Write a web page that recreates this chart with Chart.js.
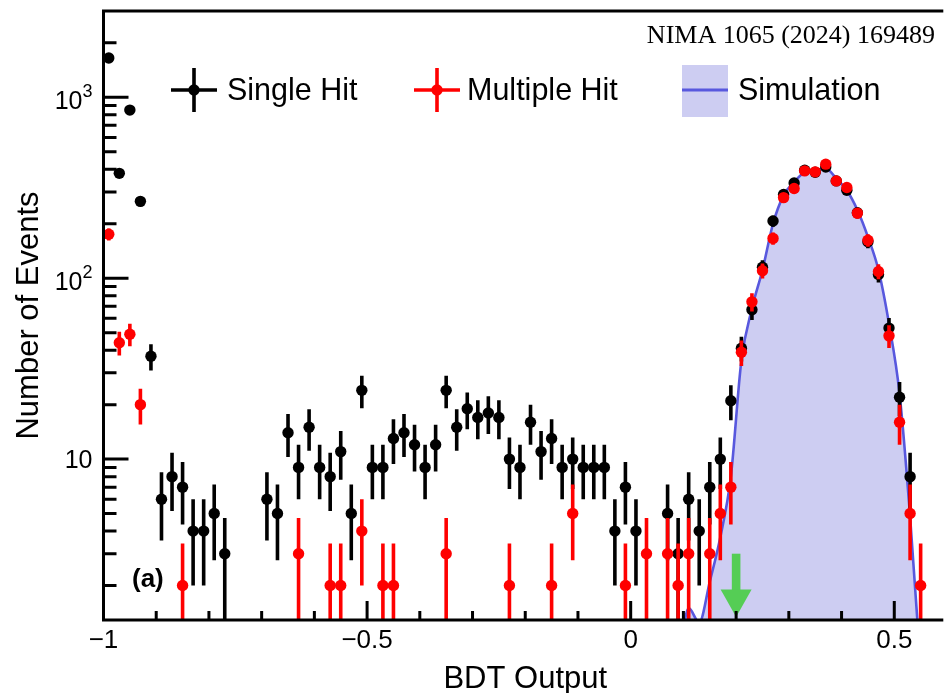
<!DOCTYPE html>
<html>
<head>
<meta charset="utf-8">
<title>BDT Output</title>
<script src="https://cdn.jsdelivr.net/npm/chart.js@4.4.1/dist/chart.umd.min.js"></script>
<style>
    html, body { margin: 0; padding: 0; background: #fff; overflow: hidden; }
    #wrap { width: 944px; height: 693px; }
</style>
</head>
<body>
<div id="wrap"><canvas id="bdtChart" width="944" height="693"></canvas></div>
<script>
// Histogram bin centres (bin width 0.02)
const binCenters = [
    -0.99, -0.97, -0.95, -0.93, -0.91, -0.89, -0.87, -0.85, -0.83, -0.81,
    -0.79, -0.77, -0.75, -0.73, -0.71, -0.69, -0.67, -0.65, -0.63, -0.61,
    -0.59, -0.57, -0.55, -0.53, -0.51, -0.49, -0.47, -0.45, -0.43, -0.41,
    -0.39, -0.37, -0.35, -0.33, -0.31, -0.29, -0.27, -0.25, -0.23, -0.21,
    -0.19, -0.17, -0.15, -0.13, -0.11, -0.09, -0.07, -0.05, -0.03, -0.01,
    0.01, 0.03, 0.05, 0.07, 0.09, 0.11, 0.13, 0.15, 0.17, 0.19,
    0.21, 0.23, 0.25, 0.27, 0.29, 0.31, 0.33, 0.35, 0.37, 0.39,
    0.41, 0.43, 0.45, 0.47, 0.49, 0.51, 0.53, 0.55
];

// Event counts per bin (0 = empty bin, not drawn)
const singleHit = [
    1650, 380, 850, 266, 37, 6, 8, 7, 4, 4,
    5, 3, 0, 0, 0, 6, 5, 14, 9, 15,
    9, 8, 11, 5, 24, 9, 9, 13, 14, 12,
    9, 12, 24, 15, 19, 17, 18, 17, 10, 9,
    16, 11, 13, 9, 10, 9, 9, 9, 4, 7,
    4, 0, 0, 5, 3, 6, 4, 7, 10, 21,
    41, 67, 115, 207, 290, 336, 395, 385, 412, 345,
    306, 230, 159, 105, 53, 22, 8, 0
];

const multipleHit = [
    175, 44, 49, 20, 0, 0, 0, 2, 0, 0,
    0, 0, 0, 0, 0, 0, 0, 0, 3, 0,
    0, 2, 2, 0, 4, 0, 2, 2, 0, 0,
    0, 0, 3, 0, 0, 0, 0, 0, 2, 0,
    0, 0, 2, 0, 5, 0, 0, 0, 0, 2,
    0, 3, 0, 3, 2, 3, 0, 3, 5, 7,
    39, 74, 110, 166, 279, 313, 392, 387, 427, 345,
    317, 229, 162, 109, 48, 16, 5, 2
];

// Simulated signal shape
const simCenters = [
    0.09, 0.11, 0.13, 0.15, 0.17, 0.19, 0.21, 0.23, 0.25, 0.27, 0.29, 0.31,
    0.33, 0.35, 0.37, 0.39, 0.41, 0.43, 0.45, 0.47, 0.49, 0.51, 0.53, 0.55
];
const simulation = [
    0.7, 1.5, 1.25, 2.1, 3.7, 8, 35, 68, 111, 200, 287, 340,
    386, 395, 404, 356, 306, 238, 169, 111, 56, 23, 4.8, 0.7
];

// Axis ticks
const xMajorTicks = [-1, -0.5, 0, 0.5];
const xTickLabels = ['\u22121', '\u22120.5', '0', '0.5'];
const xMinorTicks = [-0.9, -0.8, -0.7, -0.6, -0.4, -0.3, -0.2, -0.1, 0.1, 0.2, 0.3, 0.4];
const yMajorTicks = [10, 100, 1000];
const yTickExponents = ['', '2', '3'];
const yMinorTicks = [2, 3, 4, 5, 6, 7, 8, 9, 20, 30, 40, 50, 60, 70, 80, 90,
                     200, 300, 400, 500, 600, 700, 800, 900, 2000];

const bdtCut = 0.2;

const RED = '#ff0000';
const BLACK = '#000000';
const SIM_LINE = 'rgb(88, 88, 222)';
const SIM_FILL = 'rgb(205, 205, 242)';
const ARROW = 'rgb(85, 205, 85)';
const SANS = '"Liberation Sans", Arial, Helvetica, sans-serif';
const MARKER_R = 5.7;
const BAR_W = 3.6;

function toPoints(xs, ys) {
    return xs.map((x, i) => ({ x: x, y: ys[i] > 0 ? ys[i] : null }));
}

// Poisson error bars, drawn just before each marker set
const errorBars = {
    id: 'errorBars',
    beforeDatasetDraw(chart, args) {
        const ds = chart.data.datasets[args.index];
        if (!ds.errorBars) return;
        const { ctx, chartArea: a, scales: { x, y } } = chart;
        ctx.save();
        ctx.beginPath();
        ctx.rect(a.left, a.top, a.width, a.height);
        ctx.clip();
        ctx.strokeStyle = ds.pointBackgroundColor;
        ctx.lineWidth = BAR_W;
        ds.data.forEach(p => {
            if (p.y == null) return;
            const err = Math.sqrt(p.y);
            const px = x.getPixelForValue(p.x);
            const yTop = y.getPixelForValue(p.y + err);
            const yBot = p.y - err > 0 ? y.getPixelForValue(p.y - err) : a.bottom + 10;
            ctx.beginPath();
            ctx.moveTo(px, yTop);
            ctx.lineTo(px, yBot);
            ctx.stroke();
        });
        ctx.restore();
    }
};

// Cut arrow on top of the data
const cutArrow = {
    id: 'cutArrow',
    afterDatasetsDraw(chart) {
        const { ctx, chartArea: a, scales: { x, y } } = chart;
        const px = x.getPixelForValue(bdtCut);
        const yTop = y.getPixelForValue(3.0);
        const yHead = y.getPixelForValue(1.9);
        ctx.save();
        ctx.fillStyle = ARROW;
        ctx.fillRect(px - 4.3, yTop, 8.6, yHead - yTop + 1);
        ctx.beginPath();
        ctx.moveTo(px - 15.5, yHead);
        ctx.lineTo(px + 15.5, yHead);
        ctx.lineTo(px, a.bottom - 3);
        ctx.closePath();
        ctx.fill();
        ctx.restore();
    }
};

function drawCross(ctx, cx, cy, color) {
    ctx.strokeStyle = color;
    ctx.fillStyle = color;
    ctx.lineWidth = BAR_W;
    ctx.beginPath();
    ctx.moveTo(cx - 23, cy); ctx.lineTo(cx + 23, cy);
    ctx.moveTo(cx, cy - 22); ctx.lineTo(cx, cy + 22);
    ctx.stroke();
    ctx.beginPath();
    ctx.arc(cx, cy, MARKER_R, 0, Math.PI * 2);
    ctx.fill();
}

// Frame, inward ticks, labels and legend in ROOT style
const rootFrame = {
    id: 'rootFrame',
    afterDraw(chart) {
        const { ctx, chartArea: a, scales: { x, y } } = chart;
        ctx.save();
        ctx.strokeStyle = BLACK;
        ctx.lineWidth = 3;
        ctx.lineJoin = 'miter';
        ctx.beginPath();
        ctx.moveTo(a.right + 5, a.top);
        ctx.lineTo(a.left, a.top);
        ctx.lineTo(a.left, a.bottom);
        ctx.lineTo(a.right + 5, a.bottom);
        ctx.stroke();

        ctx.beginPath();
        xMajorTicks.forEach(v => {
            const px = x.getPixelForValue(v);
            ctx.moveTo(px, a.bottom); ctx.lineTo(px, a.bottom - 19);
        });
        xMinorTicks.forEach(v => {
            const px = x.getPixelForValue(v);
            ctx.moveTo(px, a.bottom); ctx.lineTo(px, a.bottom - 9);
        });
        yMajorTicks.forEach(v => {
            const py = y.getPixelForValue(v);
            ctx.moveTo(a.left, py); ctx.lineTo(a.left + 25, py);
        });
        yMinorTicks.forEach(v => {
            const py = y.getPixelForValue(v);
            ctx.moveTo(a.left, py); ctx.lineTo(a.left + 13, py);
        });
        ctx.stroke();

        // tick labels
        ctx.fillStyle = BLACK;
        ctx.font = '26px ' + SANS;
        ctx.textAlign = 'center';
        ctx.textBaseline = 'alphabetic';
        xMajorTicks.forEach((v, i) => {
            ctx.fillText(xTickLabels[i], x.getPixelForValue(v), 648);
        });
        yMajorTicks.forEach((v, i) => {
            const py = y.getPixelForValue(v);
            ctx.textAlign = 'right';
            if (yTickExponents[i]) {
                ctx.font = '18px ' + SANS;
                ctx.fillText(yTickExponents[i], a.left - 11, py);
                ctx.font = '25px ' + SANS;
                ctx.fillText('10', a.left - 21, py + 12);
            } else {
                ctx.font = '25px ' + SANS;
                ctx.fillText('10', a.left - 11, py + 9);
            }
        });

        // axis titles
        ctx.font = '31px ' + SANS;
        ctx.textAlign = 'center';
        ctx.fillText('BDT Output', x.getPixelForValue(-0.2), 688);
        ctx.save();
        ctx.translate(38, (a.top + a.bottom) / 2);
        ctx.rotate(-Math.PI / 2);
        ctx.fillText('Number of Events', 0, 0);
        ctx.restore();

        // panel tag and reference
        ctx.font = 'bold 26px ' + SANS;
        ctx.textAlign = 'left';
        ctx.fillText('(a)', 132, 587);
        ctx.font = '26px "Liberation Serif", "Times New Roman", serif';
        ctx.textAlign = 'right';
        ctx.fillText('NIMA 1065 (2024) 169489', 935, 43);

        // legend
        drawCross(ctx, 194, 90, BLACK);
        drawCross(ctx, 437, 90, RED);
        ctx.fillStyle = SIM_FILL;
        ctx.fillRect(682, 65, 46, 52);
        ctx.strokeStyle = SIM_LINE;
        ctx.lineWidth = 3;
        ctx.beginPath();
        ctx.moveTo(682, 90); ctx.lineTo(728, 90);
        ctx.stroke();
        ctx.fillStyle = BLACK;
        ctx.font = '30.5px ' + SANS;
        ctx.textAlign = 'left';
        ctx.fillText('Single Hit', 227, 100);
        ctx.fillText('Multiple Hit', 467, 100);
        ctx.fillText('Simulation', 738, 100);
        ctx.restore();
    }
};

const chart = new Chart(document.getElementById('bdtChart'), {
    type: 'line',
    data: {
        datasets: [
            {
                label: 'Multiple Hit',
                data: toPoints(binCenters, multipleHit),
                showLine: false,
                pointRadius: MARKER_R,
                pointBorderWidth: 0,
                pointBackgroundColor: RED,
                borderColor: RED,
                errorBars: true,
                order: 0
            },
            {
                label: 'Single Hit',
                data: toPoints(binCenters, singleHit),
                showLine: false,
                pointRadius: MARKER_R,
                pointBorderWidth: 0,
                pointBackgroundColor: BLACK,
                borderColor: BLACK,
                errorBars: true,
                order: 1
            },
            {
                label: 'Simulation',
                data: toPoints(simCenters, simulation),
                borderColor: SIM_LINE,
                backgroundColor: SIM_FILL,
                borderWidth: 2.6,
                fill: 'start',
                pointRadius: 0,
                cubicInterpolationMode: 'monotone',
                order: 2
            }
        ]
    },
    options: {
        responsive: false,
        animation: false,
        events: [],
        layout: { padding: { left: 103.5, right: 0, top: 11, bottom: 73 } },
        scales: {
            x: { type: 'linear', display: false, min: -1, max: 0.5835, bounds: 'data' },
            y: { type: 'logarithmic', display: false, min: 1.29, max: 3000, bounds: 'data' }
        },
        plugins: {
            legend: { display: false },
            tooltip: { enabled: false }
        }
    },
    plugins: [errorBars, cutArrow, rootFrame]
});
</script>
</body>
</html>
